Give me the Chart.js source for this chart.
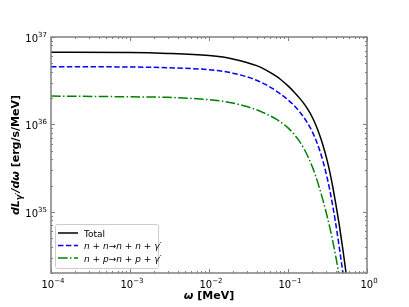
<!DOCTYPE html>
<html>
<head>
<meta charset="utf-8">
<script src="https://cdn.jsdelivr.net/npm/chart.js@4/dist/chart.umd.min.js"></script>
<style>
  html, body { margin: 0; padding: 0; background: #fff; }
  #wrap { width: 409px; height: 307px; }
</style>
</head>
<body>
<div id="wrap"><canvas id="myChart" width="409" height="307"></canvas></div>
<script>
// data (omega in MeV, dL/dw in erg/s/MeV)
var omega = [1e-4, 1e-3, 3e-3, 0.01, 0.015, 0.02, 0.03, 0.04, 0.05, 0.06, 0.07, 0.08, 0.1, 0.12, 0.14, 0.16, 0.18, 0.2,
  0.22, 0.25, 0.28, 0.31, 0.34, 0.37, 0.4, 0.45, 0.5, 0.55, 0.6];
var total = [6.68e36, 6.64e36, 6.49e36, 6.15e36, 5.9e36, 5.6e36, 5.11e36, 4.7e36, 4.3e36, 3.92e36, 3.59e36, 3.29e36, 2.76e36, 2.34e36, 2.0e36, 1.72e36, 1.47e36, 1.24e36,
  1.03e36, 7.67e35, 5.6e35, 4.01e35, 2.8e35, 1.9e35, 1.28e35, 6.7e34, 3.48e34, 1.83e34, 9.8e33];
var nnBrem = [4.57e36, 4.54e36, 4.45e36, 4.23e36, 4.05e36, 3.86e36, 3.51e36, 3.2e36, 2.91e36, 2.66e36, 2.44e36, 2.24e36, 1.91e36, 1.64e36, 1.4e36, 1.19e36, 1.01e36, 8.47e35,
  7.01e35, 5.15e35, 3.67e35, 2.55e35, 1.73e35, 1.15e35, 7.53e34, 3.72e34, 1.87e34, 9.8e33, 5.3e33];
var npBrem = [2.11e36, 2.07e36, 2.04e36, 1.92e36, 1.84e36, 1.76e36, 1.6e36, 1.47e36, 1.35e36, 1.25e36, 1.16e36, 1.07e36, 9.14e35, 7.69e35, 6.4e35, 5.24e35, 4.24e35, 3.39e35,
  2.7e35, 1.88e35, 1.31e35, 9.2e34, 6.49e34, 4.54e34, 3.17e34, 1.76e34, 9.95e33, 5.8e33, 3.4e33];

var xTicks = [-4, -3, -2, -1, 0];  // exponents of 10
var yTicks = [35, 36, 37];

function pts(ys) {
  return omega.map(function (w, i) { return { x: w, y: ys[i] } })
}

// --- text helper: draw runs of differently styled text ---
function richWidth(ctx, parts) {
  var w = 0
  parts.forEach(function (p) { ctx.font = p.f; w += ctx.measureText(p.t).width })
  return w
}
function drawRich(ctx, parts, x, y, align) {
  var w = richWidth(ctx, parts)
  var cx = align === 'center' ? x - w / 2 : (align === 'right' ? x - w : x)
  ctx.textAlign = 'left'
  ctx.textBaseline = 'alphabetic'
  parts.forEach(function (p) {
    ctx.font = p.f
    ctx.fillText(p.t, cx, y + (p.dy || 0))
    cx += ctx.measureText(p.t).width
  })
}

var FF = '"DejaVu Sans", sans-serif'
var N10 = '10px ' + FF, S7 = '7px ' + FF
var I9 = 'italic 9px ' + FF, R9 = '9px ' + FF

function powLabel(e) {
  var s = String(e).replace('-', '\u2212')
  return [{ t: '10', f: N10 }, { t: s, f: S7, dy: -5 }]
}

var legendRows = [
  { color: '#000000', dash: [], parts: [{ t: 'Total', f: R9 }] },
  { color: '#0000ff', dash: [5.5, 2.4], parts: [
    { t: 'n', f: I9 }, { t: ' + ', f: R9 }, { t: 'n', f: I9 }, { t: '\u2192', f: R9 },
    { t: 'n', f: I9 }, { t: ' + ', f: R9 }, { t: 'n', f: I9 }, { t: ' + ', f: R9 }, { t: '\u03b3\u2032', f: I9 }] },
  { color: '#008000', dash: [9.6, 2.4, 1.5, 2.4], parts: [
    { t: 'n', f: I9 }, { t: ' + ', f: R9 }, { t: 'p', f: I9 }, { t: '\u2192', f: R9 },
    { t: 'n', f: I9 }, { t: ' + ', f: R9 }, { t: 'p', f: I9 }, { t: ' + ', f: R9 }, { t: '\u03b3\u2032', f: I9 }] }
]

// axes frame, inward ticks, labels, titles, legend
var decor = {
  id: 'decor',
  afterDraw: function (chart) {
    var ctx = chart.ctx, a = chart.chartArea
    var xs = chart.scales.x, ys = chart.scales.y
    ctx.save()
    ctx.strokeStyle = '#808080'
    ctx.lineWidth = 1

    // x ticks (bottom + top)
    for (var e = -4; e <= 0; e++) {
      for (var m = 1; m <= 9; m++) {
        if (e === 0 && m > 1) break
        var px = Math.round(xs.getPixelForValue(m * Math.pow(10, e))) + 0.5
        var len = m === 1 ? 4 : 2
        ctx.beginPath()
        ctx.moveTo(px, a.bottom); ctx.lineTo(px, a.bottom - len)
        ctx.moveTo(px, a.top); ctx.lineTo(px, a.top + len)
        ctx.stroke()
      }
    }
    // y ticks (left + right)
    for (var e2 = 34; e2 <= 37; e2++) {
      for (var m2 = 1; m2 <= 9; m2++) {
        var v = m2 * Math.pow(10, e2)
        if (v < ys.min || v > ys.max) continue
        var py = Math.round(ys.getPixelForValue(v)) + 0.5
        var len2 = m2 === 1 ? 4 : 2
        ctx.beginPath()
        ctx.moveTo(a.left, py); ctx.lineTo(a.left + len2, py)
        ctx.moveTo(a.right, py); ctx.lineTo(a.right - len2, py)
        ctx.stroke()
      }
    }
    // frame
    ctx.lineWidth = 1.5
    ctx.strokeRect(a.left, a.top, a.right - a.left, a.bottom - a.top)

    // tick labels
    ctx.fillStyle = '#000'
    xTicks.forEach(function (e) {
      drawRich(ctx, powLabel(e), xs.getPixelForValue(Math.pow(10, e)) + 2, a.bottom + 15, 'center')
    })
    yTicks.forEach(function (e) {
      drawRich(ctx, powLabel(e), a.left - 4, ys.getPixelForValue(Math.pow(10, e)) + 5, 'right')
    })

    // axis titles
    var B11 = 'bold 11px ' + FF, BI11 = 'bold italic 11px ' + FF, BI8 = 'bold italic 8px ' + FF
    drawRich(ctx, [{ t: '\u03c9', f: BI11 }, { t: ' [MeV]', f: B11 }], (a.left + a.right) / 2, 299, 'center')
    ctx.save()
    ctx.translate(19, (a.top + a.bottom) / 2)
    ctx.rotate(-Math.PI / 2)
    drawRich(ctx, [{ t: 'dL', f: BI11 }, { t: '\u03b3\u2032', f: BI8, dy: 3 }, { t: '/d\u03c9', f: BI11 },
      { t: ' [erg/s/MeV]', f: B11 }], 0, 0, 'center')
    ctx.restore()

    // legend
    var lx = 55, ly = 224, lw = 103, lh = 44
    ctx.fillStyle = 'rgba(255,255,255,0.8)'
    ctx.strokeStyle = '#cccccc'
    ctx.lineWidth = 1
    ctx.beginPath()
    ctx.roundRect(lx + 0.5, ly + 0.5, lw, lh, 2)
    ctx.fill(); ctx.stroke()
    legendRows.forEach(function (r, i) {
      var yy = ly + 9 + i * 12.5
      ctx.strokeStyle = r.color
      ctx.lineWidth = 1.5
      ctx.setLineDash(r.dash)
      ctx.beginPath(); ctx.moveTo(58, yy); ctx.lineTo(78, yy); ctx.stroke()
      ctx.setLineDash([])
      ctx.fillStyle = '#000'
      drawRich(ctx, r.parts, 84, yy + 3.5, 'left')
    })
    ctx.restore()
  }
}

var ctx = document.getElementById('myChart').getContext('2d')
var chart = new Chart(ctx, {
  type: 'line',
  data: {
    datasets: [
      { label: 'Total', data: pts(total), borderColor: '#000000', borderWidth: 1.5 },
      { label: 'n + n -> n + n + gamma\'', data: pts(nnBrem), borderColor: '#0000ff', borderWidth: 1.5, borderDash: [5.5, 2.4] },
      { label: 'n + p -> n + p + gamma\'', data: pts(npBrem), borderColor: '#008000', borderWidth: 1.5, borderDash: [9.6, 2.4, 1.5, 2.4] }
    ]
  },
  options: {
    responsive: false,
    devicePixelRatio: 1,
    animation: false,
    events: [],
    layout: { padding: { top: 37, right: 42, left: 0, bottom: 0 } },
    elements: { point: { radius: 0 }, line: { cubicInterpolationMode: 'monotone', fill: false } },
    plugins: { legend: { display: false }, tooltip: { enabled: false } },
    scales: {
      x: {
        type: 'logarithmic', min: 1e-4, max: 1,
        ticks: { display: false }, grid: { display: false }, border: { display: false },
        afterFit: function (s) { s.height = 34 }
      },
      y: {
        type: 'logarithmic', min: 2e34, max: 1e37,
        ticks: { display: false }, grid: { display: false }, border: { display: false },
        afterFit: function (s) { s.width = 51 }
      }
    }
  },
  plugins: [decor]
})
</script>
</body>
</html>
